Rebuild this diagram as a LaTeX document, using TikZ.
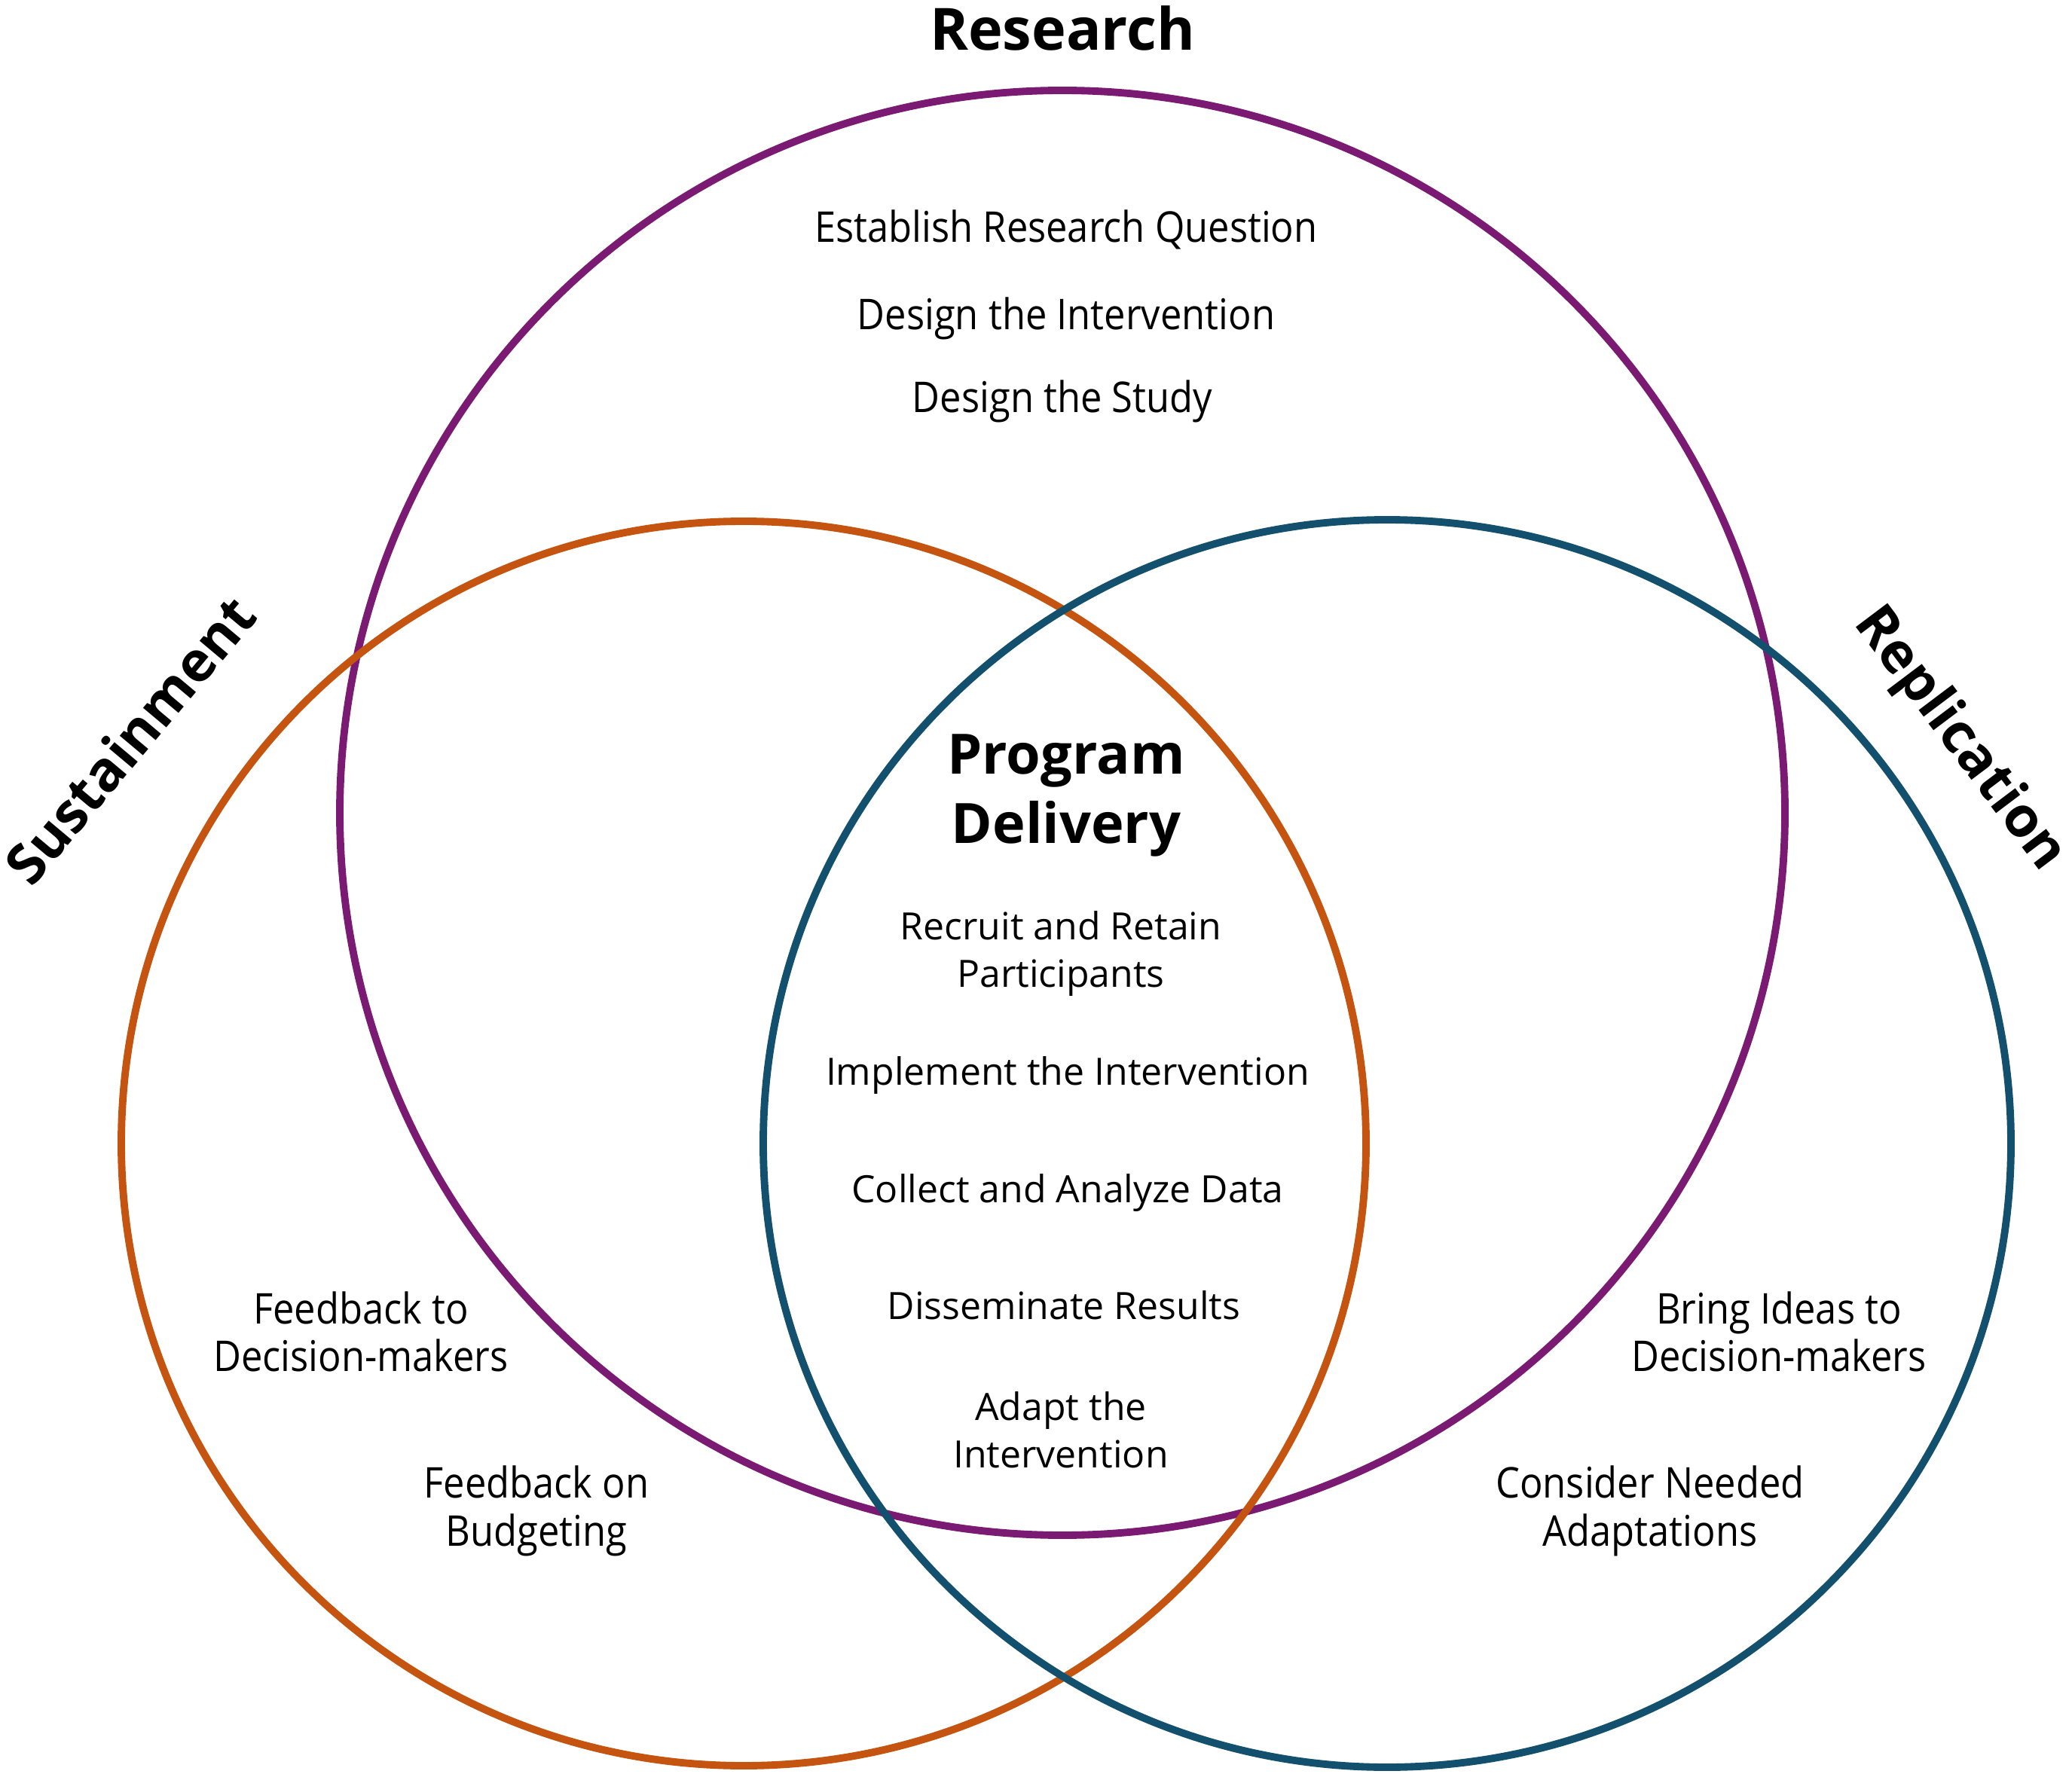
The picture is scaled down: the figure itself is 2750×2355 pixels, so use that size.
\documentclass[tikz,border=0pt]{standalone}
\usepackage{fontspec}
\setmainfont{Open Sans}
\newfontfamily\narrowfont[FakeStretch=0.9]{Open Sans}
\definecolor{rspurple}{RGB}{122,26,114}
\definecolor{rsorange}{RGB}{196,84,16}
\definecolor{rsteal}{RGB}{18,80,110}
\usetikzlibrary{positioning}

\begin{document}
\begin{tikzpicture}[x=0.01cm, y=-0.01cm]
    \tikzset{ring/.style={line width=2.8pt}}
    \tikzset{heading/.style={font=\bfseries\fontsize{21}{26}\selectfont, align=center}}
    \tikzset{step item/.style={font=\fontsize{14.2}{18}\selectfont, align=center}}
    \tikzset{side item/.style={font=\narrowfont\fontsize{16}{18}\selectfont, align=center}}

    \useasboundingbox (0,0) rectangle (2750,2355);

    % Three circles
    \draw[ring, rspurple] (1410,1079) circle (959);
    \draw[ring, rsorange] (987,1518) circle (826);
    \draw[ring, rsteal]   (1841,1518) circle (828);

    % Circle titles
    \node[heading, font=\bfseries\fontsize{22}{26}\selectfont] (research) at (1410,37) {Research};
    \node[heading, rotate=50]  (sustain) at (172,982)  {Sustainment};
    \node[heading, rotate=-53] (replic)  at (2600,982) {Replication};

    % Research steps
    \node[side item] (r1) at (1415,305) {Establish Research Question};
    \node[side item] (r2) at (1415,423) {Design the Intervention};
    \node[side item] (r3) at (1410,533) {Design the Study};

    % Centre: program delivery
    \node[heading] (deliv) at (1415,1056) {Program\\Delivery};
    \node[step item] (d1) at (1408,1266) {Recruit and Retain\\Participants};
    \node[step item] (d2) at (1417,1428) {Implement the Intervention};
    \node[step item] (d3) at (1417,1584) {Collect and Analyze Data};
    \node[step item] (d4) at (1412,1733) {Disseminate Results};
    \node[step item] (d5) at (1408,1898) {Adapt the\\Intervention};

    % Sustainment steps
    \node[side item] (s1) at (479,1768) {Feedback to\\Decision-makers};
    \node[side item] (s2) at (712,2006) {Feedback on\\Budgeting};

    % Replication steps
    \node[side item] (p1) at (2361,1768) {Bring Ideas to\\Decision-makers};
    \node[side item] (p2) at (2190,2006) {Consider Needed\\Adaptations};
\end{tikzpicture}
\end{document}
